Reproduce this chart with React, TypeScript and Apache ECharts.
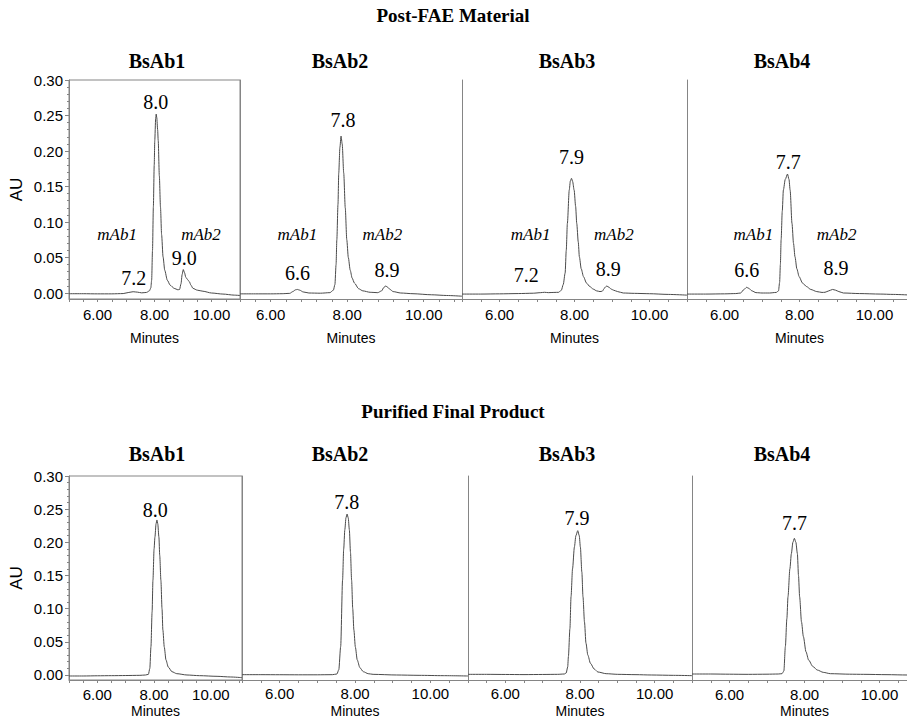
import React, { useEffect, useRef } from "react";
import * as echarts from "echarts";

// ---------- text ----------
const TITLE_TOP = "Post-FAE Material";
const TITLE_BOTTOM = "Purified Final Product";
const SAMPLES = ["BsAb1", "BsAb2", "BsAb3", "BsAb4"];
const X_NAME = "Minutes";
const Y_NAME = "AU";

// ---------- axis ticks ----------
const X_LABEL_VALUES = [6, 8, 10];
const Y_TICKS = [0, 0.05, 0.1, 0.15, 0.2, 0.25, 0.3];
const Y_MINOR_TICKS = [
  0.01, 0.02, 0.03, 0.04, 0.06, 0.07, 0.08, 0.09, 0.11, 0.12, 0.13, 0.14,
  0.16, 0.17, 0.18, 0.19, 0.21, 0.22, 0.23, 0.24, 0.26, 0.27, 0.28, 0.29,
];

// ---------- chromatograms: [minutes, AU] ----------
const topBsAb1: [number, number][] = [
  [5.0, -0.001], [5.5, -0.001], [6.0, -0.0012], [6.5, -0.0012], [6.9, -0.0008],
  [7.1, 0.0008], [7.25, 0.0018], [7.4, 0.0012], [7.55, 0.0002], [7.72, 0.0008],
  [7.82, 0.003], [7.87, 0.007], [7.9, 0.018], [7.93, 0.06], [7.96, 0.121],
  [7.99, 0.18], [8.01, 0.215], [8.04, 0.245], [8.06, 0.252], [8.08, 0.247],
  [8.11, 0.23], [8.13, 0.215], [8.17, 0.165], [8.21, 0.121], [8.25, 0.082],
  [8.3, 0.051], [8.36, 0.032], [8.45, 0.018], [8.55, 0.011], [8.69, 0.0066],
  [8.82, 0.0045], [8.88, 0.005], [8.93, 0.013], [8.97, 0.026], [9.01, 0.033],
  [9.05, 0.029], [9.1, 0.022], [9.16, 0.019], [9.22, 0.016], [9.28, 0.011],
  [9.35, 0.0065], [9.5, 0.004], [9.7, 0.0025], [10.0, 0.0], [10.4, -0.0015],
  [10.8, -0.003], [11.0, -0.0035],
];
const topBsAb2: [number, number][] = [
  [5.2, -0.0012], [5.6, -0.0012], [6.0, -0.0012], [6.3, -0.001], [6.5, -0.0005],
  [6.58, 0.002], [6.65, 0.0045], [6.7, 0.005], [6.76, 0.004], [6.85, 0.0015],
  [7.0, 0.0], [7.3, -0.0003], [7.55, 0.0005], [7.64, 0.004], [7.68, 0.012],
  [7.71, 0.04], [7.73, 0.075], [7.76, 0.125], [7.78, 0.169], [7.81, 0.205],
  [7.84, 0.221], [7.87, 0.21], [7.91, 0.169], [7.95, 0.12], [7.99, 0.075],
  [8.03, 0.05], [8.08, 0.032], [8.13, 0.021], [8.19, 0.014], [8.3, 0.006],
  [8.41, 0.003], [8.6, 0.001], [8.8, 0.0005], [8.9, 0.003], [8.96, 0.008],
  [9.01, 0.0099], [9.06, 0.008], [9.12, 0.005], [9.2, 0.002], [9.4, 0.0],
  [9.72, -0.001], [10.2, -0.0025], [10.6, -0.0035], [11.0, -0.0045],
];
const topBsAb3: [number, number][] = [
  [5.0, -0.0015], [5.5, -0.0015], [6.0, -0.0012], [6.5, -0.0008], [6.9, -0.0003],
  [7.1, 0.0005], [7.2, 0.001], [7.3, 0.0005], [7.45, 0.0008], [7.58, 0.001],
  [7.65, 0.004], [7.7, 0.012], [7.75, 0.028], [7.78, 0.06], [7.81, 0.098],
  [7.86, 0.145], [7.89, 0.158], [7.92, 0.1615], [7.95, 0.157], [7.99, 0.145],
  [8.03, 0.122], [8.06, 0.098], [8.1, 0.072], [8.13, 0.051], [8.18, 0.034],
  [8.24, 0.023], [8.32, 0.014], [8.41, 0.009], [8.5, 0.0055], [8.59, 0.003],
  [8.68, 0.002], [8.74, 0.0025], [8.8, 0.007], [8.86, 0.0099], [8.92, 0.008],
  [8.98, 0.0055], [9.04, 0.004], [9.15, 0.002], [9.3, 0.0], [9.6, -0.0005],
  [10.0, -0.001], [10.5, -0.002], [11.0, -0.003],
];
const topBsAb4: [number, number][] = [
  [5.0, -0.0015], [5.5, -0.0015], [6.0, -0.0012], [6.3, -0.0008], [6.43, 0.0],
  [6.52, 0.005], [6.59, 0.008], [6.65, 0.0065], [6.73, 0.003], [6.84, 0.0005],
  [7.0, 0.0], [7.2, 0.0], [7.38, 0.0008], [7.44, 0.003], [7.47, 0.015],
  [7.49, 0.04], [7.51, 0.075], [7.54, 0.115], [7.57, 0.145], [7.62, 0.16],
  [7.68, 0.1675], [7.72, 0.16], [7.75, 0.145], [7.8, 0.098], [7.84, 0.07],
  [7.88, 0.051], [7.93, 0.034], [7.99, 0.023], [8.08, 0.014], [8.19, 0.009],
  [8.3, 0.005], [8.46, 0.002], [8.6, 0.0008], [8.68, 0.001], [8.78, 0.003],
  [8.88, 0.005], [8.96, 0.004], [9.05, 0.002], [9.17, 0.0], [9.6, -0.0008],
  [10.15, -0.0015], [10.5, -0.002], [11.0, -0.003],
];
const bottomBsAb1: [number, number][] = [
  [5.0, -0.0015], [5.5, -0.0015], [6.0, -0.0012], [6.5, -0.001], [7.0, -0.0008],
  [7.5, -0.0005], [7.7, 0.0], [7.8, 0.001], [7.85, 0.01], [7.89, 0.043],
  [7.93, 0.095], [7.96, 0.143], [8.0, 0.19], [8.03, 0.208], [8.07, 0.228],
  [8.1, 0.2337], [8.13, 0.228], [8.17, 0.208], [8.2, 0.18], [8.24, 0.143],
  [8.28, 0.1], [8.31, 0.068], [8.36, 0.042], [8.42, 0.0226], [8.5, 0.012],
  [8.63, 0.005], [8.8, 0.002], [9.16, 0.0], [9.6, -0.001], [10.22, -0.002],
  [10.7, -0.003], [11.1, -0.004],
];
const bottomBsAb2: [number, number][] = [
  [5.0, 0.0005], [5.5, 0.0005], [6.0, 0.0004], [6.5, 0.0003], [7.0, 0.0003],
  [7.4, 0.0005], [7.52, 0.0015], [7.57, 0.008], [7.62, 0.043], [7.67, 0.143],
  [7.7, 0.19], [7.73, 0.219], [7.76, 0.237], [7.79, 0.2427], [7.82, 0.237],
  [7.85, 0.219], [7.88, 0.185], [7.91, 0.143], [7.94, 0.1], [7.97, 0.068],
  [8.01, 0.042], [8.06, 0.0226], [8.13, 0.011], [8.22, 0.005], [8.35, 0.002],
  [8.48, 0.001], [9.1, 0.0], [9.7, -0.0005], [10.34, -0.001], [11.0, -0.0015],
];
const bottomBsAb3: [number, number][] = [
  [5.0, 0.001], [5.5, 0.001], [6.0, 0.0008], [6.5, 0.0006], [7.0, 0.0008],
  [7.4, 0.001], [7.58, 0.0015], [7.63, 0.003], [7.67, 0.012], [7.69, 0.028],
  [7.73, 0.07], [7.76, 0.118], [7.8, 0.16], [7.85, 0.193], [7.89, 0.21],
  [7.94, 0.2176], [7.98, 0.21], [8.01, 0.193], [8.05, 0.155], [8.08, 0.118],
  [8.12, 0.08], [8.16, 0.048], [8.21, 0.03], [8.28, 0.0176], [8.38, 0.009],
  [8.48, 0.0045], [8.7, 0.002], [9.01, 0.001], [9.5, 0.0005], [9.91, 0.0],
  [10.5, -0.0005], [11.0, -0.001],
];
const bottomBsAb4: [number, number][] = [
  [5.0, 0.0015], [5.5, 0.0015], [6.0, 0.0012], [6.5, 0.001], [7.0, 0.0012],
  [7.3, 0.0015], [7.4, 0.002], [7.45, 0.006], [7.49, 0.043], [7.53, 0.085],
  [7.56, 0.118], [7.61, 0.16], [7.65, 0.183], [7.69, 0.2], [7.73, 0.206],
  [7.77, 0.2], [7.81, 0.183], [7.84, 0.15], [7.87, 0.118], [7.92, 0.08],
  [7.97, 0.058], [8.04, 0.035], [8.11, 0.0226], [8.22, 0.013], [8.34, 0.0075],
  [8.5, 0.004], [8.69, 0.002], [9.2, 0.0012], [9.58, 0.001], [10.2, 0.0005],
  [10.74, 0.0], [11.0, 0.0],
];

// ---------- annotations: [text, minutes, AU] ----------
const topBsAb1Peaks: [string, number, number][] = [["8.0", 8.04, 0.269], ["7.2", 7.27, 0.0207], ["9.0", 9.04, 0.049]];
const topBsAb2Peaks: [string, number, number][] = [["7.8", 7.89, 0.2436], ["6.6", 6.7, 0.0277], ["8.9", 9.04, 0.0324]];
const topBsAb3Peaks: [string, number, number][] = [["7.9", 7.92, 0.192], ["7.2", 6.71, 0.0253], ["8.9", 8.9, 0.0333]];
const topBsAb4Peaks: [string, number, number][] = [["7.7", 7.7, 0.184], ["6.6", 6.59, 0.0324], ["8.9", 8.97, 0.0348]];
const topBsAb1Species: [string, number, number][] = [["mAb1", 6.69, 0.0817], ["mAb2", 9.63, 0.0817]];
const topBsAb2Species: [string, number, number][] = [["mAb1", 6.7, 0.0817], ["mAb2", 8.92, 0.0817]];
const topBsAb3Species: [string, number, number][] = [["mAb1", 6.83, 0.0817], ["mAb2", 9.05, 0.0817]];
const topBsAb4Species: [string, number, number][] = [["mAb1", 6.77, 0.0817], ["mAb2", 8.99, 0.0817]];
const bottomBsAb1Peaks: [string, number, number][] = [["8.0", 8.04, 0.2487]];
const bottomBsAb2Peaks: [string, number, number][] = [["7.8", 7.78, 0.261]];
const bottomBsAb3Peaks: [string, number, number][] = [["7.9", 7.92, 0.236]];
const bottomBsAb4Peaks: [string, number, number][] = [["7.7", 7.73, 0.2287]];

// ---------- styling / layout ----------
const SERIF = '"Liberation Serif", "Times New Roman", serif';
const SANS = '"Liberation Sans", Arial, sans-serif';
const AXIS_COLOR = "#858585";
const CURVE_COLOR = "#4a4a4a";
const TEXT_COLOR = "#000000";

const ROWS = [
  { top: 80, height: 219, yMin: -0.00845, titleY: 15, subY: 61 },
  { top: 476, height: 204, yMin: -0.00754, titleY: 411, subY: 454 },
];

type Panel = {
  row: number; col: number; left: number; width: number;
  xMin: number; xMax: number; xInt: number;
  curve: [number, number][]; peaks: [string, number, number][]; species: [string, number, number][];
  labelMargin: number; nameGap: number; subX: number;
};

const PANELS: Panel[] = [
  { row: 0, col: 0, left: 69, width: 171, xMin: 5, xMax: 11, xInt: 0.5, curve: topBsAb1, peaks: topBsAb1Peaks, species: topBsAb1Species, labelMargin: 8, nameGap: 31, subX: 157 },
  { row: 0, col: 1, left: 240, width: 222, xMin: 5.2, xMax: 11, xInt: 0.4, curve: topBsAb2, peaks: topBsAb2Peaks, species: topBsAb2Species, labelMargin: 8, nameGap: 31, subX: 340 },
  { row: 0, col: 2, left: 462, width: 225, xMin: 5, xMax: 11, xInt: 0.5, curve: topBsAb3, peaks: topBsAb3Peaks, species: topBsAb3Species, labelMargin: 8, nameGap: 31, subX: 567 },
  { row: 0, col: 3, left: 687, width: 225, xMin: 5, xMax: 11, xInt: 0.5, curve: topBsAb4, peaks: topBsAb4Peaks, species: topBsAb4Species, labelMargin: 8, nameGap: 31, subX: 782 },
  { row: 1, col: 0, left: 69, width: 173, xMin: 5, xMax: 11.1, xInt: 0.5, curve: bottomBsAb1, peaks: bottomBsAb1Peaks, species: [], labelMargin: 7, nameGap: 23, subX: 157 },
  { row: 1, col: 1, left: 242, width: 226, xMin: 5, xMax: 11, xInt: 0.5, curve: bottomBsAb2, peaks: bottomBsAb2Peaks, species: [], labelMargin: 6, nameGap: 23, subX: 340 },
  { row: 1, col: 2, left: 468, width: 224, xMin: 5, xMax: 11, xInt: 0.5, curve: bottomBsAb3, peaks: bottomBsAb3Peaks, species: [], labelMargin: 6, nameGap: 23, subX: 567 },
  { row: 1, col: 3, left: 692, width: 225, xMin: 5, xMax: 11, xInt: 0.5, curve: bottomBsAb4, peaks: bottomBsAb4Peaks, species: [], labelMargin: 7, nameGap: 23, subX: 782 },
];

const isXLabel = (v: number) => X_LABEL_VALUES.some((x) => Math.abs(v - x) < 1e-6);

function buildOption() {
  const grid: any[] = [];
  const xAxis: any[] = [];
  const yAxis: any[] = [];
  const series: any[] = [];

  PANELS.forEach((p, i) => {
    const r = ROWS[p.row];
    grid.push({
      left: p.left, width: p.width, top: r.top, height: r.height,
      containLabel: false, outerBoundsMode: "none",
      show: p.col === 0, borderColor: AXIS_COLOR, borderWidth: 1, backgroundColor: "transparent",
    });
    xAxis.push({
      type: "value", gridIndex: i, min: p.xMin, max: p.xMax, interval: p.xInt, position: "bottom",
      axisLine: { show: true, onZero: false, lineStyle: { color: AXIS_COLOR, width: 1 } },
      axisTick: { show: true, length: 3, lineStyle: { color: AXIS_COLOR } },
      axisLabel: {
        show: true, margin: p.labelMargin, color: TEXT_COLOR, fontFamily: SANS, fontSize: 15,
        hideOverlap: false, showMinLabel: true, showMaxLabel: true,
        formatter: (v: number) => (isXLabel(v) ? Number(v).toFixed(2) : ""),
      },
      splitLine: { show: false },
      name: X_NAME, nameLocation: "middle", nameGap: p.nameGap,
      nameTextStyle: { color: TEXT_COLOR, fontFamily: SANS, fontSize: 14, lineHeight: 15 },
    });
    const mainY = yAxis.length;
    yAxis.push({
      type: "value", gridIndex: i, min: r.yMin, max: 0.3, position: "left",
      axisLine: { show: true, onZero: false, lineStyle: { color: AXIS_COLOR, width: 1 } },
      axisTick: { show: p.col === 0, length: 4, customValues: Y_TICKS, lineStyle: { color: AXIS_COLOR } },
      axisLabel: {
        show: p.col === 0, customValues: Y_TICKS, margin: 6, color: TEXT_COLOR, fontFamily: SANS, fontSize: 15,
        formatter: (v: number) => Number(v).toFixed(2),
      },
      splitLine: { show: false },
      name: p.col === 0 ? Y_NAME : "", nameLocation: "middle", nameGap: 44,
      nameTextStyle: { color: TEXT_COLOR, fontFamily: SANS, fontSize: 17 },
    });
    if (p.col === 0) {
      yAxis.push({
        type: "value", gridIndex: i, min: r.yMin, max: 0.3, position: "left",
        axisLine: { show: false },
        axisTick: { show: true, length: 2, customValues: Y_MINOR_TICKS, lineStyle: { color: AXIS_COLOR } },
        axisLabel: { show: false },
        splitLine: { show: false },
      });
    }
    series.push({
      type: "line", xAxisIndex: i, yAxisIndex: mainY, data: p.curve,
      showSymbol: false, symbol: "none", smooth: 0.25, smoothMonotone: "x",
      lineStyle: { color: CURVE_COLOR, width: 1 }, silent: true,
    });
    const ann = [
      ...p.peaks.map(([text, t, au]) => ({
        name: text, value: [t, au],
        label: { show: true, position: "inside", formatter: "{b}", color: TEXT_COLOR, opacity: 1, fontFamily: SERIF, fontSize: 20 },
      })),
      ...p.species.map(([text, t, au]) => ({
        name: text, value: [t, au],
        label: { show: true, position: "inside", formatter: "{b}", color: TEXT_COLOR, opacity: 1, fontFamily: SERIF, fontSize: 17, fontStyle: "italic" },
      })),
    ];
    series.push({
      type: "scatter", xAxisIndex: i, yAxisIndex: mainY, data: ann,
      symbol: "circle", symbolSize: 0, itemStyle: { color: "#000000" }, silent: true, clip: false, z: 5,
    });
  });

  const graphic: any[] = [];
  [TITLE_TOP, TITLE_BOTTOM].forEach((t, ri) => {
    graphic.push({
      type: "text", x: 453, y: ROWS[ri].titleY,
      style: { text: t, fill: "#000", fontFamily: SERIF, fontWeight: "bold", fontSize: 19, align: "center", verticalAlign: "middle" },
    });
  });
  PANELS.forEach((p) => {
    graphic.push({
      type: "text", x: p.subX, y: ROWS[p.row].subY,
      style: { text: SAMPLES[p.col], fill: "#000", fontFamily: SERIF, fontWeight: "bold", fontSize: 20, align: "center", verticalAlign: "middle" },
    });
  });

  return { animation: false, backgroundColor: "#ffffff", grid, xAxis, yAxis, series, graphic };
}

export default function App() {
  const ref = useRef<HTMLDivElement>(null);
  useEffect(() => {
    document.body.style.margin = "0";
    if (!ref.current) return;
    const chart = echarts.init(ref.current, undefined, { renderer: "svg" });
    chart.setOption(buildOption() as any);
    return () => chart.dispose();
  }, []);
  return <div ref={ref} style={{ width: 907, height: 721, overflow: "hidden" }} />;
}
